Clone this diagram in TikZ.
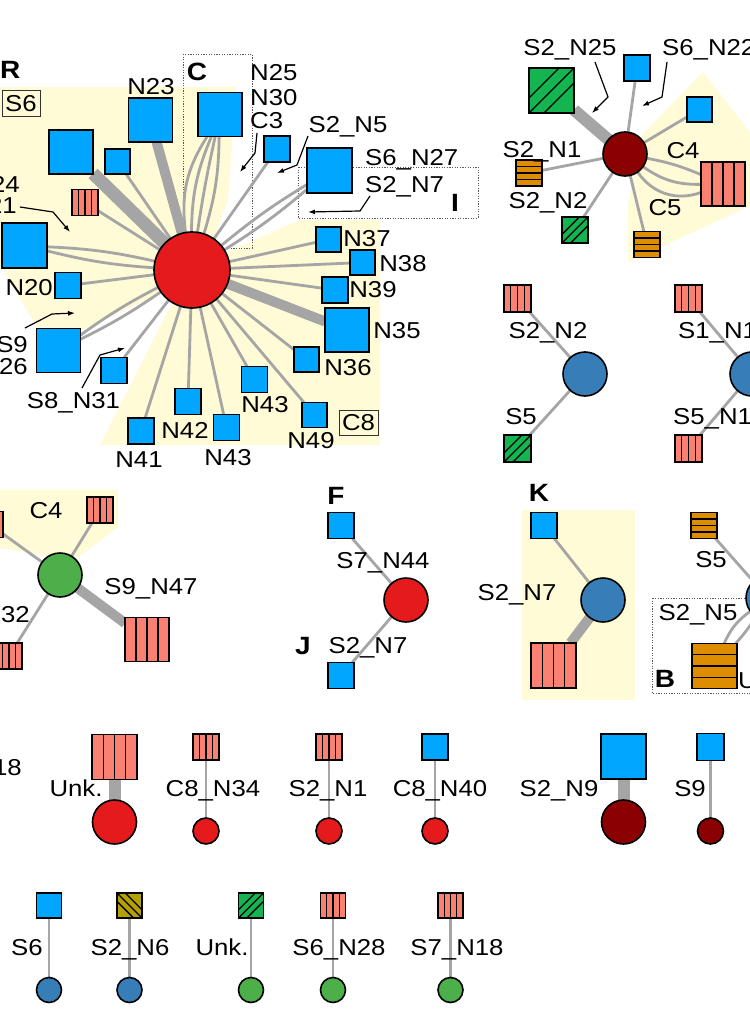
\documentclass[tikz,border=0pt]{standalone}
\usepackage{fontspec}
\setmainfont{Liberation Sans}[FakeStretch=1.12]
\usetikzlibrary{calc,arrows.meta}
\definecolor{bluesq}{RGB}{0,166,255}
\definecolor{pinkc}{RGB}{250,128,114}
\definecolor{orangec}{RGB}{222,140,0}
\definecolor{greensq}{RGB}{20,180,80}
\definecolor{olivec}{RGB}{180,160,0}
\definecolor{redc}{RGB}{228,26,28}
\definecolor{darkredc}{RGB}{139,0,0}
\definecolor{bluec}{RGB}{55,126,184}
\definecolor{greenc}{RGB}{77,175,74}
\definecolor{hullc}{RGB}{255,251,214}
\definecolor{edgec}{RGB}{165,165,165}
\pgfdeclarelayer{hull}
\pgfdeclarelayer{edges}
\pgfsetlayers{hull,edges,main}
\newcommand{\LabFont}{\fontsize{23}{27}\selectfont}
\newcommand{\BoldFont}{\fontsize{25}{29}\selectfont\bfseries}
\tikzset{
  sqb/.style={draw=black, line width=1.6pt, inner sep=0pt, outer sep=0pt, shape=rectangle},
  circ/.style={draw=black, line width=1.6pt, inner sep=0pt, outer sep=0pt, circle},
  stripe/.style={draw=black, line width=1.3pt},
  edge/.style={draw=edgec, line width=2.8pt},
  wedge/.style={draw=edgec, line width=#1pt},
  lab/.style={font=\LabFont, inner sep=0pt, anchor=base},
  labw/.style={lab, anchor=base west},
  labe/.style={lab, anchor=base east},
  blab/.style={font=\BoldFont, inner sep=0pt, anchor=base},
  call/.style={draw=black, line width=1.2pt, -{Latex[length=7pt,width=5pt]}},
  dotbox/.style={draw=black!65, line width=0.8pt, dash pattern=on 1.2pt off 1.4pt},
  tagbox/.style={draw=black!80, line width=1pt, inner sep=0pt, minimum width=38pt, minimum height=26pt, font=\LabFont}
}
\newcommand{\SqB}[4]{\node[sqb,fill=bluesq,minimum size=#4pt] (#1) at (#2,#3) {};}
\newcommand{\SqV}[4]{\node[sqb,fill=pinkc,minimum size=#4pt] (#1) at (#2,#3) {};
  \foreach \f in {0.25,0.5,0.75}{\draw[stripe] ($(#1.north west)!\f!(#1.north east)$) -- ($(#1.south west)!\f!(#1.south east)$);}}
\newcommand{\SqH}[4]{\node[sqb,fill=orangec,minimum size=#4pt] (#1) at (#2,#3) {};
  \foreach \f in {0.25,0.5,0.75}{\draw[stripe] ($(#1.north west)!\f!(#1.south west)$) -- ($(#1.north east)!\f!(#1.south east)$);}}
\newcommand{\SqD}[5]{\node[sqb,fill=#5,minimum size=#4pt] (#1) at (#2,#3) {};
  \draw[stripe] (#1.south west) -- (#1.north east);
  \draw[stripe] ($(#1.south west)!0.333!(#1.north west)$) -- ($(#1.north west)!0.667!(#1.north east)$);
  \draw[stripe] ($(#1.south west)!0.333!(#1.south east)$) -- ($(#1.south east)!0.667!(#1.north east)$);}
\newcommand{\SqE}[5]{\node[sqb,fill=#5,minimum size=#4pt] (#1) at (#2,#3) {};
  \draw[stripe] (#1.north west) -- (#1.south east);
  \draw[stripe] ($(#1.north west)!0.333!(#1.north east)$) -- ($(#1.north east)!0.667!(#1.south east)$);
  \draw[stripe] ($(#1.north west)!0.333!(#1.south west)$) -- ($(#1.south west)!0.667!(#1.south east)$);}
\begin{document}
\begin{tikzpicture}[x=1pt,y=-1pt]
\useasboundingbox (0,0) rectangle (749,1024);
\begin{pgfonlayer}{hull}
\fill[white] (0,0) rectangle (749,1024);
\fill[hullc] (0,87) -- (236,87) -- (228,200) -- (200,275) -- (82,330) -- (37,327) -- (0,265) -- cycle;
\fill[hullc] (190,268) -- (300,220) -- (380,220) -- (380,445) -- (100,445) -- cycle;
\fill[hullc] (703,72) -- (752,135) -- (752,205) -- (628,262) -- (628,205) -- (642,135) -- cycle;
\fill[hullc] (0,490) -- (118,490) -- (118,527) -- (75,560) -- (0,548) -- cycle;
\fill[hullc] (522,510) rectangle (635,700);
\end{pgfonlayer}

% ===== Panel R =====
\node[circ, fill=redc, minimum size=76pt] (cR) at (192,270) {};
\SqB{s1}{71}{152}{44}
\SqB{s2}{117.5}{161.5}{25}
\SqB{s3}{150.5}{120}{44}
\SqV{p4}{85}{202.5}{26}
\SqB{s5}{220}{114.5}{44}
\SqB{s6}{24.5}{245.5}{45}
\SqB{s7}{68}{285.5}{26}
\SqB{s8}{58.5}{350.5}{44}
\SqB{s9}{114}{370.5}{26}
\SqB{s10}{141}{431}{26}
\SqB{s11}{188}{401.5}{26}
\SqB{s12}{226.5}{427.5}{26}
\SqB{s13}{254.5}{379.5}{26}
\SqB{s14}{314.5}{415}{25}
\SqB{s15}{306.5}{359.5}{25}
\SqB{s16}{347}{330}{44}
\SqB{s17}{335}{290}{26}
\SqB{s18}{362.5}{262.5}{25}
\SqB{s19}{328.5}{239.5}{25}
\SqB{s20}{329.5}{170.5}{45}
\SqB{s21}{277}{149}{26}

\node[blab, anchor=base west] (tR) at (0,79) {R};
\node[tagbox] (tS6) at (21,104) {S6};
\node[tagbox, minimum width=39pt, minimum height=25pt] (tC8) at (358.5,422.5) {C8};
\node[lab] (lN23) at (151,94.5) {N23};
\node[blab] (tC) at (197,81) {C};
\node[labw] (lN25) at (250,80.5) {N25};
\node[labw] (lN30) at (250,105.5) {N30};
\node[labw] (lC3) at (250,128.5) {C3};
\node[lab] (lS2N5) at (348,132.5) {S2\_N5};
\node[labw] (lS6N27) at (365,165.5) {S6\_N27};
\node[labw] (lS2N7) at (365,192.5) {S2\_N7};
\node[blab] (tI) at (455,212) {I};
\node[labe] (l24) at (20,193) {24};
\node[labe] (l21) at (17,214) {21};
\node[labe] (lN20) at (53,295.5) {N20};
\node[labe] (lS9) at (28,352.5) {S9};
\node[labe] (l26) at (28,374.5) {26};
\node[lab] (lS8N31) at (73.5,408.5) {S8\_N31};
\node[lab] (lN41) at (139,467.5) {N41};
\node[lab] (lN42) at (185,438.5) {N42};
\node[lab] (lN43a) at (228,465.5) {N43};
\node[lab] (lN43b) at (265,412.5) {N43};
\node[lab] (lN49) at (311,448.5) {N49};
\node[lab] (lN36) at (348,375.5) {N36};
\node[lab] (lN35) at (397,338.5) {N35};
\node[lab] (lN39) at (373,297.5) {N39};
\node[lab] (lN38) at (403,271.5) {N38};
\node[lab] (lN37) at (367,246.5) {N37};

\draw[call] (20,207) -- (53,212) -- (70,232);
\draw[call] (25,328) -- (52,314) -- (75,313);
\draw[call] (82,388) -- (100,355) -- (125,348);
\draw[call] (257,133) -- (255,153) -- (240,172);
\draw[call] (308,136) -- (297,165) -- (277,173);
\draw[call] (370,196) -- (360,211) -- (308,212);

\begin{pgfonlayer}{edges}
\draw[dotbox] (183,54) rectangle (252,248);
\draw[dotbox] (298,167) rectangle (478,218);
\draw[wedge=13] (cR) -- (s1);
\draw[edge] (cR) -- (s2);
\draw[wedge=10] (cR) -- (s3);
\draw[edge] (cR) -- (p4);
\draw[edge] (cR) to[bend right=8] (s5);
\draw[edge] (cR) to[bend left=2] (s5);
\draw[edge] (cR) to[bend left=11] (s5);
\draw[edge] (cR) to[bend left=20] (s5);
\draw[edge] (cR) to[bend left=5] (s6);
\draw[edge] (cR) to[bend right=5] (s6);
\draw[edge] (cR) -- (s7);
\draw[edge] (cR) to[bend left=4] (s8);
\draw[edge] (cR) to[bend right=4] (s8);
\draw[edge] (cR) -- (s9);
\draw[edge] (cR) -- (s10);
\draw[edge] (cR) -- (s11);
\draw[edge] (cR) -- (s12);
\draw[edge] (cR) -- (s13);
\draw[edge] (cR) -- (s14);
\draw[edge] (cR) -- (s15);
\draw[wedge=10] (cR) -- (s16);
\draw[edge] (cR) -- (s17);
\draw[edge] (cR) -- (s18);
\draw[edge] (cR) -- (s19);
\draw[edge] (cR) to[bend left=4] (s20);
\draw[edge] (cR) to[bend right=4] (s20);
\draw[edge] (cR) -- (s21);
\end{pgfonlayer}

% ===== Top-right panel =====
\node[circ, fill=darkredc, minimum size=44pt] (cTR) at (625,154) {};
\SqD{g1}{551.5}{90.5}{45}{greensq}
\SqB{b2}{637}{68}{26}
\SqB{b3}{699.5}{109.5}{25}
\SqV{pk}{723}{184}{44}
\SqH{o5}{529}{173}{26}
\SqD{g6}{575}{230}{26}{greensq}
\SqH{o7}{647}{244.5}{26}
\node[lab] (lS2N25) at (570,55.5) {S2\_N25};
\node[labw] (lS6N22) at (662,55.5) {S6\_N22};
\node[lab] (lC4a) at (683,158.5) {C4};
\node[lab] (lS2N1a) at (542,157.5) {S2\_N1};
\node[lab] (lS2N2a) at (548,208.5) {S2\_N2};
\node[lab] (lC5) at (665,215.5) {C5};
\draw[call] (595,62) -- (608,97) -- (592,113);
\draw[call] (667,62) -- (662,97) -- (642,106);
\begin{pgfonlayer}{edges}
\draw[wedge=12] (cTR) -- (g1);
\draw[edge] (cTR) -- (b2);
\draw[edge] (cTR) -- (b3);
\draw[edge] (cTR) to[bend left=6] (pk);
\draw[edge] (cTR) to[bend right=18] (pk);
\draw[edge] (cTR) to[bend right=38] (pk);
\draw[edge] (cTR) -- (o5);
\draw[edge] (cTR) -- (g6);
\draw[edge] (cTR) -- (o7);
\end{pgfonlayer}

% ===== Blue circle panels =====
\SqV{pa1}{517.5}{298.5}{27}
\node[circ, fill=bluec, minimum size=44pt] (cA) at (585,374) {};
\SqD{pa2}{517.5}{448.5}{27}{greensq}
\node[lab] (lS2N2b) at (548,338.5) {S2\_N2};
\node[lab] (lS5a) at (521,424.5) {S5};
\SqV{pb1}{688.5}{298.5}{27}
\node[circ, fill=bluec, minimum size=44pt] (cB) at (752,374) {};
\SqV{pb2}{688.5}{448.5}{27}
\node[labw] (lS1N1) at (678,338.5) {S1\_N1};
\node[labw] (lS5N1) at (673,424.5) {S5\_N1};
\begin{pgfonlayer}{edges}
\draw[edge] (pa1) -- (cA);
\draw[edge] (cA) -- (pa2);
\draw[edge] (pb1) -- (cB);
\draw[edge] (cB) -- (pb2);
\end{pgfonlayer}

% ===== Green circle panel =====
\node[circ, fill=greenc, minimum size=44pt] (cG) at (60,575) {};
\SqV{q1}{100}{510}{26}
\SqV{q2}{-10}{524.5}{26}
\SqV{q3}{9}{656}{26}
\SqV{q4}{147}{639.5}{44}
\node[lab] (lC4b) at (46,518.5) {C4};
\node[labe] (l32) at (30,622.5) {32};
\node[lab] (lS9N47) at (151,594.5) {S9\_N47};
\begin{pgfonlayer}{edges}
\draw[edge] (cG) -- (q1);
\draw[edge] (cG) -- (q2);
\draw[edge] (cG) -- (q3);
\draw[wedge=10] (cG) -- (q4);
\end{pgfonlayer}

% ===== F / J panel =====
\SqB{f1}{341}{525.5}{26}
\node[circ, fill=redc, minimum size=44pt] (cF) at (406,600) {};
\SqB{f2}{341}{675.5}{26}
\node[blab] (tF) at (336,504) {F};
\node[lab] (lS7N44) at (383,568.5) {S7\_N44};
\node[blab] (tJ) at (303,654) {J};
\node[lab] (lS2N7b) at (368,653.5) {S2\_N7};
\begin{pgfonlayer}{edges}
\draw[edge] (f1) -- (cF);
\draw[edge] (cF) -- (f2);
\end{pgfonlayer}

% ===== K panel =====
\SqB{k1}{544}{525.5}{26}
\node[circ, fill=bluec, minimum size=44pt] (cK) at (603,600) {};
\SqV{k2}{553.5}{665.5}{45}
\node[blab] (tK) at (539,501) {K};
\node[lab] (lS2N7c) at (517,600.5) {S2\_N7};
\begin{pgfonlayer}{edges}
\draw[edge] (k1) -- (cK);
\draw[wedge=10] (cK) -- (k2);
\end{pgfonlayer}

% ===== B panel =====
\SqH{bo1}{704}{525.5}{26}
\node[circ, fill=bluec, minimum size=44pt] (cBB) at (768,598) {};
\SqH{bo2}{714.5}{666}{45}
\node[lab] (lS5b) at (711,567.5) {S5};
\node[lab] (lS2N5b) at (698,620.5) {S2\_N5};
\node[blab] (tB) at (665,687) {B};
\node[labw] (lUnkB) at (738,688.5) {Unk.};
\begin{pgfonlayer}{edges}
\draw[dotbox] (652,598) rectangle (762,693);
\draw[edge] (bo1) -- (cBB);
\draw[edge] (cBB) to[bend right=15] (bo2);
\draw[edge] (cBB) to[bend left=5] (bo2);
\end{pgfonlayer}

% ===== Row 4 =====
\node[labe] (lN18) at (22,775.5) {N18};
\SqV{u1}{114.5}{757}{45}
\node[circ, fill=redc, minimum size=44pt] (cu1) at (114.5,822) {};
\node[lab] (lUnk1) at (76,796.5) {Unk.};
\SqV{u2}{206}{747}{26}
\node[circ, fill=redc, minimum size=26pt] (cu2) at (206,831) {};
\node[lab] (lC8N34) at (213,796.5) {C8\_N34};
\SqV{u3}{329}{747}{26}
\node[circ, fill=redc, minimum size=26pt] (cu3) at (329,831) {};
\node[lab] (lS2N1b) at (328,796.5) {S2\_N1};
\SqB{u4}{435}{747}{26}
\node[circ, fill=redc, minimum size=26pt] (cu4) at (435,831) {};
\node[lab] (lC8N40) at (440,796.5) {C8\_N40};
\SqB{u5}{623.5}{756.5}{45}
\node[circ, fill=darkredc, minimum size=44pt] (cu5) at (623.5,822) {};
\node[lab] (lS2N9) at (559,796.5) {S2\_N9};
\SqB{u6}{710.5}{747}{27}
\node[circ, fill=darkredc, minimum size=26pt] (cu6) at (710.5,831) {};
\node[lab] (lS9b) at (690,796.5) {S9};
\begin{pgfonlayer}{edges}
\draw[wedge=12] (u1) -- (cu1);
\draw[edge] (u2) -- (cu2);
\draw[edge] (u3) -- (cu3);
\draw[edge] (u4) -- (cu4);
\draw[wedge=12] (u5) -- (cu5);
\draw[edge] (u6) -- (cu6);
\end{pgfonlayer}

% ===== Row 5 =====
\SqB{v1}{49}{905.5}{25}
\node[circ, fill=bluec, minimum size=25pt] (cv1) at (49,990) {};
\node[lab] (lS6b) at (27,955.5) {S6};
\SqE{v2}{129.5}{905.5}{25}{olivec}
\node[circ, fill=bluec, minimum size=25pt] (cv2) at (129.5,990) {};
\node[lab] (lS2N6) at (130,955.5) {S2\_N6};
\SqD{v3}{251}{905.5}{25}{greensq}
\node[circ, fill=greenc, minimum size=25pt] (cv3) at (251,990) {};
\node[lab] (lUnk2) at (222,955.5) {Unk.};
\SqV{v4}{333}{905.5}{25}
\node[circ, fill=greenc, minimum size=25pt] (cv4) at (333,990) {};
\node[lab] (lS6N28) at (339,955.5) {S6\_N28};
\SqV{v5}{450.5}{905.5}{25}
\node[circ, fill=greenc, minimum size=25pt] (cv5) at (450.5,990) {};
\node[lab] (lS7N18) at (457,955.5) {S7\_N18};
\begin{pgfonlayer}{edges}
\draw[edge] (v1) -- (cv1);
\draw[edge] (v2) -- (cv2);
\draw[edge] (v3) -- (cv3);
\draw[edge] (v4) -- (cv4);
\draw[edge] (v5) -- (cv5);
\end{pgfonlayer}
\end{tikzpicture}
\end{document}
